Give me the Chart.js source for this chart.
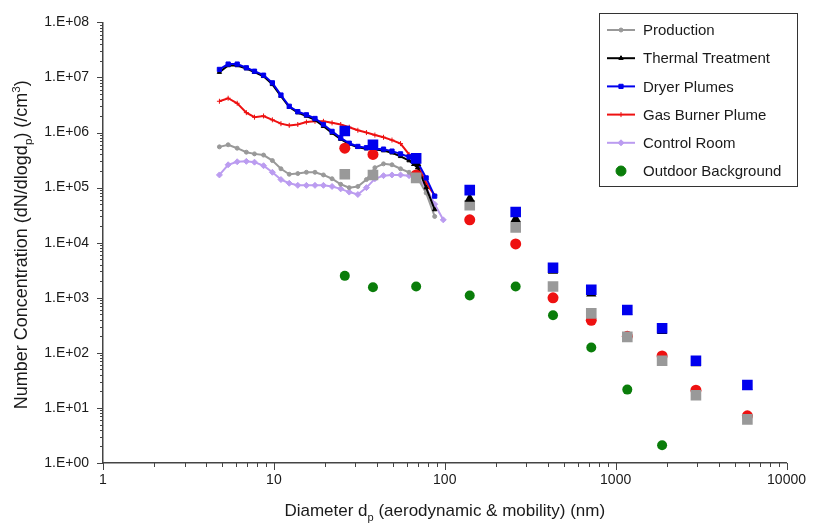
<!doctype html>
<html lang="en">
<head>
<meta charset="utf-8">
<title>Number concentration vs particle diameter</title>
<style>
  * { margin: 0; padding: 0; }
  body { background: #fff; }
  .chartBox { width: 815px; height: 527px; }
</style>
</head>
<body>
<div class="chartBox"><canvas id="myChart"></canvas></div>
<script src="https://cdn.jsdelivr.net/npm/chart.js"></script>
<script>
// SMPS sizes (nm) used by the lines
const smpsSizes = [4.8, 5.4, 6.1, 6.9, 7.7, 8.7, 9.8, 11.0, 12.3, 13.8, 15.5, 17.4, 19.5, 21.9, 24.6,
  27.6, 31.0, 34.8, 39.0, 43.8, 49.1, 55.1, 61.8, 69.4, 77.8, 87.3, 98.0];

const productionLine = [5.5e5, 6e5, 5.2e5, 4.4e5, 4.1e5, 3.9e5, 3.1e5, 2.2e5, 1.75e5, 1.8e5, 1.9e5, 1.9e5, 1.7e5, 1.45e5, 1.15e5,
  1.0e5, 1.05e5, 1.4e5, 2.3e5, 2.7e5, 2.6e5, 2.2e5, 1.9e5, 1.5e5, 8e4, 3e4, null];
const thermalLine = [1.25e7, 1.65e7, 1.65e7, 1.45e7, 1.25e7, 1.05e7, 7.5e6, 4.6e6, 2.9e6, 2.3e6, 2.0e6, 1.7e6, 1.3e6, 9.8e5, 7.6e5,
  6.2e5, 5.4e5, 5.1e5, 4.9e5, 4.7e5, 4.3e5, 3.7e5, 3.1e5, 2.3e5, 1.0e5, 4e4, null];
const dryerLine = [1.4e7, 1.75e7, 1.75e7, 1.5e7, 1.3e7, 1.1e7, 8e6, 4.8e6, 3.0e6, 2.4e6, 2.1e6, 1.8e6, 1.4e6, 1.05e6, 8e5,
  6.4e5, 5.6e5, 5.3e5, 5.1e5, 5.0e5, 4.6e5, 4.1e5, 3.6e5, 2.9e5, 1.5e5, 7e4, null];
const burnerLine = [3.7e6, 4.2e6, 3.4e6, 2.3e6, 1.9e6, 2.0e6, 1.7e6, 1.45e6, 1.35e6, 1.4e6, 1.55e6, 1.6e6, 1.6e6, 1.5e6, 1.4e6,
  1.25e6, 1.1e6, 1.0e6, 9e5, 8.2e5, 7.3e5, 6.3e5, 4.0e5, 2.6e5, 1.2e5, 7.2e4, null];
const controlLine = [1.7e5, 2.6e5, 2.95e5, 3e5, 2.9e5, 2.5e5, 1.9e5, 1.4e5, 1.2e5, 1.1e5, 1.1e5, 1.1e5, 1.1e5, 1.05e5, 9.5e4,
  8.3e4, 7.5e4, 1.0e5, 1.45e5, 1.65e5, 1.7e5, 1.7e5, 1.65e5, 1.5e5, 1.0e5, 5e4, 2.6e4];

// larger sizes (nm) shown as single markers
const apsSizes = [26, 38, 68, 140, 260, 430, 720, 1170, 1870, 2950, 5900];
const productionPts = [1.75e5, 1.7e5, 1.5e5, 4.8e4, 1.9e4, 1.6e3, 520, 195, 72, 17, 6.2];
const thermalPts = [1.0e6, 5.5e5, 2.8e5, 6.3e4, 2.7e4, 3.1e3, 1.2e3, 550, 250, 65, 24];
const dryerPts = [1.07e6, 6e5, 3.4e5, 9e4, 3.6e4, 3.5e3, 1.4e3, 600, 280, 72, 26];
const burnerPts = [5.2e5, 4e5, 1.7e5, 2.6e4, 9.5e3, 1e3, 390, 200, 88, 21, 7.2];
const outdoorPts = [2.5e3, 1.55e3, 1.6e3, 1.1e3, 1.6e3, 480, 125, 21.5, 2.1, null, null];

const yTicks = [1, 1e1, 1e2, 1e3, 1e4, 1e5, 1e6, 1e7, 1e8];
const xTicks = [1, 10, 100, 1000, 10000];

const toXY = (xs, ys) => xs.map((x, i) => ({x: x, y: ys[i]})).filter(p => p.y !== null);

const lineSet = (label, values, color, style, radius, order) => ({
  label, data: toXY(smpsSizes, values), showLine: true,
  borderColor: color, backgroundColor: color, borderWidth: 2,
  pointStyle: style, pointRadius: radius, pointBorderWidth: 1, order
});
const markSet = (label, values, color, style, radius, order) => ({
  label, data: toXY(apsSizes, values), showLine: false,
  borderColor: color, backgroundColor: color, borderWidth: 0,
  pointStyle: style, pointRadius: radius, pointBorderWidth: 0, order
});

const grey = '#999999', black = '#000000', blue = '#0000ee', red = '#ee1111', lilac = '#bb9cf0', green = '#0a7d0a';

const data = {
  datasets: [
    lineSet('Production', productionLine, grey, 'circle', 2, 10),
    lineSet('Thermal Treatment', thermalLine, black, 'triangle', 2.5, 8),
    lineSet('Dryer Plumes', dryerLine, blue, 'rect', 3, 7),
    lineSet('Gas Burner Plume', burnerLine, red, 'cross', 2.5, 9),
    lineSet('Control Room', controlLine, lilac, 'rectRot', 3, 11),
    markSet('Outdoor Background', outdoorPts, green, 'circle', 5, 6),
    markSet('Gas Burner Plume pts', burnerPts, red, 'circle', 5.5, 5),
    markSet('Production pts', productionPts, grey, 'rect', 7.5, 4),
    markSet('Thermal Treatment pts', thermalPts, black, 'triangle', 6, 3),
    markSet('Dryer Plumes pts', dryerPts, blue, 'rect', 7.5, 2)
  ]
};

const legendItems = [
  {text: 'Production', color: grey, style: 'circle', r: 2, line: true},
  {text: 'Thermal Treatment', color: black, style: 'triangle', r: 2.5, line: true},
  {text: 'Dryer Plumes', color: blue, style: 'rect', r: 3, line: true},
  {text: 'Gas Burner Plume', color: red, style: 'cross', r: 2.5, line: true},
  {text: 'Control Room', color: lilac, style: 'rectRot', r: 3, line: true},
  {text: 'Outdoor Background', color: green, style: 'circle', r: 5, line: false}
];

// text with sub/superscript parts: [text, 'sub'|'sup'|undefined]
function drawRich(ctx, parts, x, y, size) {
  const font = s => s + 'px "Liberation Sans", Arial, sans-serif';
  let w = 0;
  parts.forEach(p => { ctx.font = font(p[1] ? size * 0.65 : size); w += ctx.measureText(p[0]).width; });
  let cx = x - w / 2;
  ctx.textAlign = 'left';
  ctx.textBaseline = 'alphabetic';
  parts.forEach(p => {
    const s = p[1] ? size * 0.65 : size;
    ctx.font = font(s);
    const dy = p[1] === 'sub' ? size * 0.3 : p[1] === 'sup' ? -size * 0.4 : 0;
    ctx.fillText(p[0], cx, y + dy);
    cx += ctx.measureText(p[0]).width;
  });
}

const decorations = {
  id: 'decorations',
  afterDraw(chart) {
    const {ctx, chartArea: a, scales: {x, y}} = chart;
    ctx.save();
    ctx.strokeStyle = '#444';
    ctx.lineWidth = 1;
    // log ticks on both axes, majors longer
    for (let e = 0; e < 8; e++) {
      for (let m = 1; m <= 10; m++) {
        const py = Math.round(y.getPixelForValue(m * Math.pow(10, e))) + 0.5;
        const len = (m === 1 || m === 10) ? 6 : 3;
        ctx.beginPath(); ctx.moveTo(a.left - len, py); ctx.lineTo(a.left, py); ctx.stroke();
      }
    }
    for (let e = 0; e < 4; e++) {
      for (let m = 1; m <= 10; m++) {
        const px = Math.round(x.getPixelForValue(m * Math.pow(10, e))) + 0.5;
        const len = (m === 1 || m === 10) ? 7 : 4;
        ctx.beginPath(); ctx.moveTo(px, a.bottom); ctx.lineTo(px, a.bottom + len); ctx.stroke();
      }
    }

    // axis titles
    ctx.fillStyle = '#1a1a1a';
    drawRich(ctx, [['Diameter d'], ['p', 'sub'], [' (aerodynamic & mobility) (nm)']], (a.left + a.right) / 2, 516, 17);
    ctx.save();
    ctx.translate(27, (a.top + a.bottom) / 2 + 2);
    ctx.rotate(-Math.PI / 2);
    drawRich(ctx, [['Number Concentration (dN/dlogd'], ['p', 'sub'], [') (/cm'], ['3', 'sup'], [')']], 0, 0, 18);
    ctx.restore();

    // legend box
    const bx = 599, by = 13, bw = 198, bh = 173;
    ctx.fillStyle = '#fff';
    ctx.fillRect(bx, by, bw, bh);
    ctx.strokeStyle = '#333';
    ctx.strokeRect(bx + 0.5, by + 0.5, bw, bh);
    legendItems.forEach((it, i) => {
      const ly = 30 + i * 28.2;
      if (it.line) {
        ctx.strokeStyle = it.color; ctx.lineWidth = 2;
        ctx.beginPath(); ctx.moveTo(607, ly); ctx.lineTo(635, ly); ctx.stroke();
      }
      ctx.fillStyle = it.color; ctx.strokeStyle = it.color; ctx.lineWidth = 1;
      Chart.helpers.drawPoint(ctx, {pointStyle: it.style, radius: it.r, borderWidth: 1, rotation: 0}, 621, ly);
      ctx.fillStyle = '#1a1a1a';
      ctx.font = '15px "Liberation Sans", Arial, sans-serif';
      ctx.textAlign = 'left'; ctx.textBaseline = 'middle';
      ctx.fillText(it.text, 643, ly + 1);
    });
    ctx.restore();
  }
};

const tickFont = {family: '"Liberation Sans", Arial, sans-serif', size: 14};

const config = {
  type: 'scatter',
  data,
  options: {
    responsive: true,
    maintainAspectRatio: false,
    animation: false,
    layout: {padding: {top: 20, right: 18, left: 0, bottom: 0}},
    plugins: {legend: {display: false}, tooltip: {enabled: false}},
    scales: {
      x: {
        type: 'logarithmic', min: 1, max: 10000,
        afterFit: s => { s.height = 64; },
        afterBuildTicks: s => { s.ticks = xTicks.map(v => ({value: v})); },
        grid: {display: false, drawTicks: false},
        border: {display: true, color: '#444', width: 1.5},
        ticks: {autoSkip: false, maxRotation: 0, padding: 9, color: '#1a1a1a', font: tickFont,
          callback: v => String(v)}
      },
      y: {
        type: 'logarithmic', min: 1, max: 1e8,
        afterFit: s => { s.width = 103; },
        afterBuildTicks: s => { s.ticks = yTicks.map(v => ({value: v})); },
        grid: {display: false, drawTicks: false},
        border: {display: true, color: '#444', width: 1.5},
        ticks: {autoSkip: false, padding: 14, color: '#1a1a1a', font: tickFont,
          callback: v => '1.E+' + String(Math.round(Math.log10(v))).padStart(2, '0')}
      }
    }
  },
  plugins: [decorations]
};

const myChart = new Chart(document.getElementById('myChart'), config);
</script>
</body>
</html>
